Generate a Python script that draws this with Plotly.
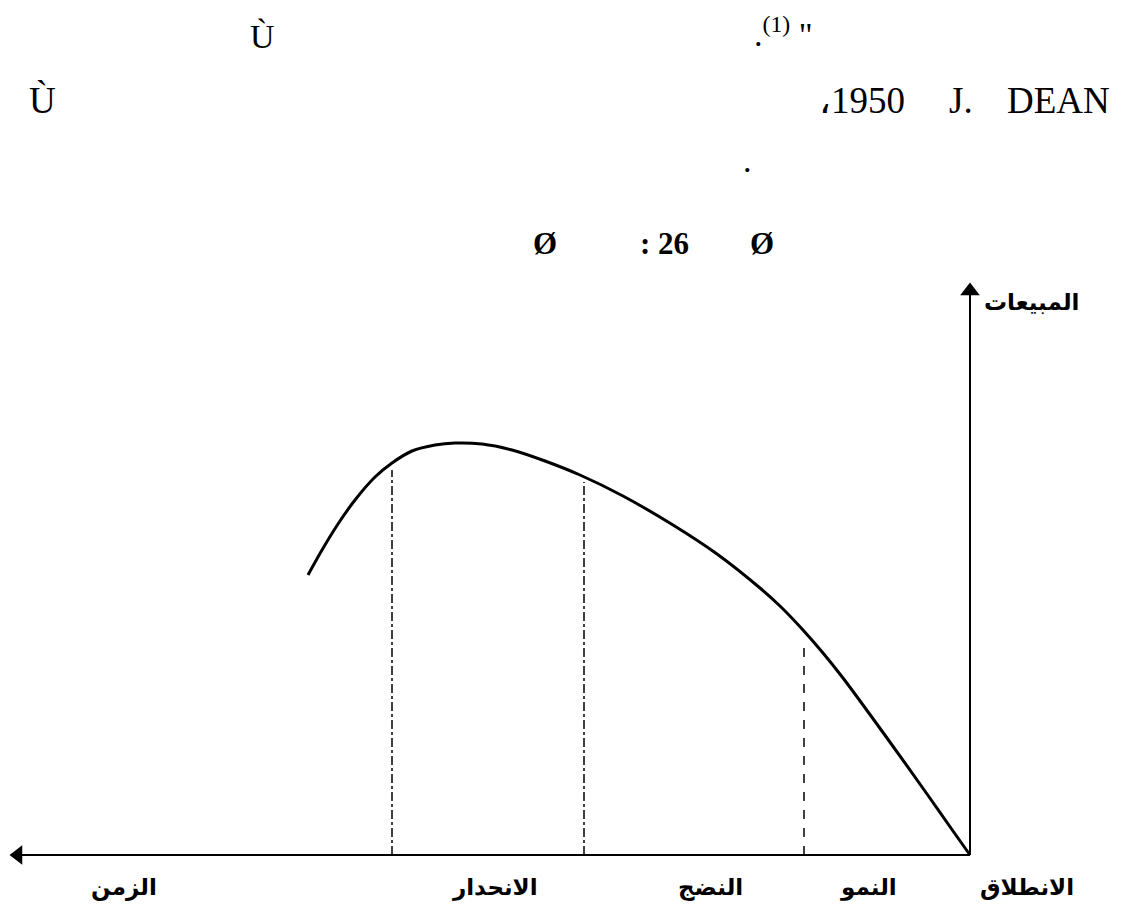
import plotly.graph_objects as go

# product life cycle curve (time runs right-to-left, origin at bottom right)
time_pts = [662, 648, 632, 615, 595, 578, 558, 535, 515, 488, 458, 425, 390,
            347, 297, 253, 210, 190, 167, 147, 127, 83, 43, 17, 0]
sales_pts = [280, 305, 331, 355, 378, 392, 404, 410, 412, 411, 405, 394, 380,
             359, 330, 301, 267, 249, 225, 202, 177, 117, 61, 24, 0]

# stage boundaries: (time, height of the guide line, dash style)
stage_x = [166, 386, 578]
stage_top = [214, 373, 385]
stage_dash = ['dash', 'dashdot', 'dashdot']

stage_labels = ['الانطلاق', 'النمو', 'النضج', 'الانحدار', 'الزمن']
stage_label_x = [-57, 102, 260, 475, 846]

x_axis_end = 960
y_axis_end = 572

# where the origin sits in the screenshot (page body adds an 8px margin)
ORIGIN_PX = (970, 855)
BODY = 8


def px(xp, yp):
    """screenshot pixel -> data coords"""
    return ORIGIN_PX[0] - xp, ORIGIN_PX[1] - yp


fig = go.Figure()

# axes drawn as traces with arrow heads
fig.add_trace(go.Scatter(
    x=[0, x_axis_end - 8], y=[0, 0], mode='lines',
    line=dict(color='black', width=2), hoverinfo='skip'
))
fig.add_trace(go.Scatter(
    x=[x_axis_end - 8], y=[0], mode='markers',
    marker=dict(symbol='triangle-left', size=17, color='black'), hoverinfo='skip'
))
fig.add_trace(go.Scatter(
    x=[0, 0], y=[0, y_axis_end - 8], mode='lines',
    line=dict(color='black', width=2), hoverinfo='skip'
))
fig.add_trace(go.Scatter(
    x=[0], y=[y_axis_end - 8], mode='markers',
    marker=dict(symbol='triangle-up', size=17, color='black'), hoverinfo='skip'
))

# stage guide lines
for sx, st, sd in zip(stage_x, stage_top, stage_dash):
    fig.add_trace(go.Scatter(
        x=[sx, sx], y=[0, st], mode='lines',
        line=dict(color='black', width=1.5, dash=sd), hoverinfo='skip'
    ))

# the curve
fig.add_trace(go.Scatter(
    x=time_pts, y=sales_pts, mode='lines',
    line=dict(color='black', width=3, shape='spline', smoothing=0.8),
    hoverinfo='skip'
))

ar_font = dict(family='DejaVu Sans', size=23, color='black')
serif = dict(family='Liberation Serif', size=34, color='black')
serif2 = dict(family='Liberation Serif', size=37, color='black')
serif_b = dict(family='Liberation Serif', size=31, color='black', weight='bold')

annotations = []
for lab, lx in zip(stage_labels, stage_label_x):
    annotations.append(dict(x=lx, y=px(0, 887)[1], text='<b>%s</b>' % lab,
                            showarrow=False, font=ar_font))

annotations.append(dict(x=px(1031, 0)[0], y=px(0, 302)[1], text='<b>المبيعات</b>',
                        showarrow=False, font=ar_font))

# header text (garbled in the source)
header = [
    ('Ù', 262, 36, serif),
    ('.<sup>(1)</sup> "', 783, 32, serif),
    ('Ù', 42, 100, serif2),
    ('،1950', 862, 100, serif2),
    ('J.', 961, 100, serif2),
    ('DEAN', 1058, 100, serif2),
    ('.', 747, 160, serif),
    ('Ø', 545, 243, serif_b),
    (': 26', 664, 243, serif_b),
    ('Ø', 762, 243, serif_b),
]
for txt, hx, hy, f in header:
    xx, yy = px(hx, hy)
    annotations.append(dict(x=xx, y=yy, text=txt, showarrow=False, font=f))

# map the figure's own pixels onto the screenshot pixels
x0 = ORIGIN_PX[0] - BODY
y0 = ORIGIN_PX[1] - BODY
fig.update_layout(
    width=1144,
    height=919,
    margin=dict(l=0, r=0, t=0, b=0),
    plot_bgcolor='white',
    paper_bgcolor='white',
    showlegend=False,
    xaxis=dict(range=[x0, x0 - 1144], visible=False, fixedrange=True),
    yaxis=dict(range=[y0 - 919, y0], visible=False, fixedrange=True),
    annotations=annotations,
)

fig.write_html("out.html")
